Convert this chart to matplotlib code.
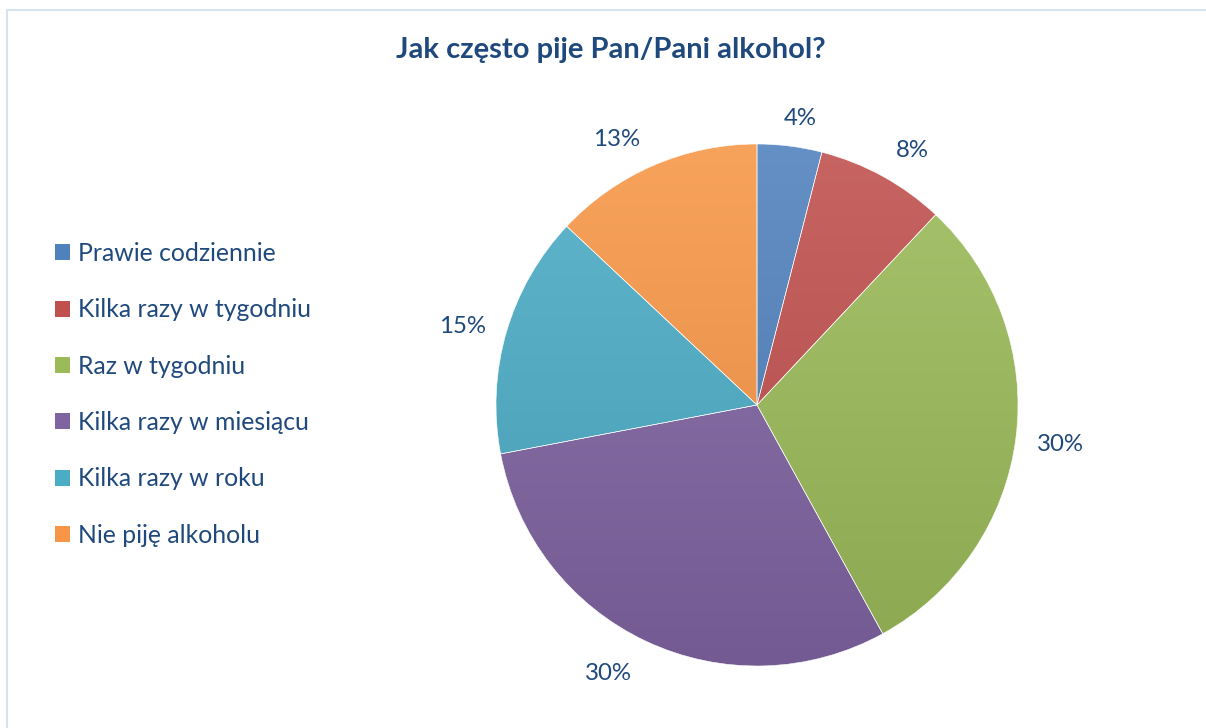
import numpy as np
import matplotlib.pyplot as plt
from matplotlib.colors import to_rgb, LinearSegmentedColormap
from matplotlib.patches import Rectangle

plt.rcParams['font.family'] = ['Lato', 'DejaVu Sans']

# Data
categories = ["Prawie codziennie", "Kilka razy w tygodniu", "Raz w tygodniu",
              "Kilka razy w miesiącu", "Kilka razy w roku", "Nie piję alkoholu"]
shares = [4, 8, 30, 30, 15, 13]
colors = ["#4F81BD", "#C0504D", "#9BBB59", "#8064A2", "#4BACC6", "#F79646"]

# small nudges (px) of the percentage labels, Excel-style placement
label_nudge = [(5, -14), (10, -11), (3, -2), (-20, 5), (-4, -6), (-20, -12)]

text_color = "#1F497D"

fig = plt.figure(figsize=(12.06, 7.28), dpi=100)

# light blue chart frame
fig.patches.append(Rectangle((7 / 1206, -0.05), 1.1, (728 - 10) / 728 + 0.05,
                             transform=fig.transFigure, fill=False,
                             edgecolor="#D5E3F3", linewidth=1.5))

# pie axes: centre (757, 405) px, radius 261 px
cx, cy, r = 757, 405, 261
ax = fig.add_axes([(cx - r) / 1206, (728 - cy - r) / 728, 2 * r / 1206, 2 * r / 728])

wedges, texts, autotexts = ax.pie(
    shares, colors=colors, startangle=90, counterclock=False,
    autopct='%.0f%%', pctdistance=1.16, radius=1,
    wedgeprops=dict(edgecolor="white", linewidth=0.4),
    textprops=dict(color=text_color, fontsize=17.3))

for t, (dx, dy) in zip(autotexts, label_nudge):
    x, y = t.get_position()
    t.set_position((x + dx / r, y + dy / r))

# vertical gradient per slice (lighter at top, darker at bottom)
grad = np.linspace(0, 1, 256).reshape(-1, 1)
for w, c in zip(wedges, colors):
    base = np.array(to_rgb(c))
    top = base + (1 - base) * 0.12
    bottom = base * 0.9
    cmap = LinearSegmentedColormap.from_list("g", [bottom, top])
    im = ax.imshow(grad, cmap=cmap, extent=(-1, 1, -1, 1), origin="lower",
                   aspect="auto", zorder=w.get_zorder() + 0.1)
    im.set_clip_path(w)

# white separators on top
for w in wedges:
    w.set_zorder(3)
    w.set_facecolor("none")

ax.set_xlim(-1, 1)
ax.set_ylim(-1, 1)
ax.axis("off")

# legend
leg_handles = [Rectangle((0, 0), 1, 1, facecolor=c) for c in colors]
fig.legend(leg_handles, categories, loc="upper left",
           bbox_to_anchor=(55 / 1206, 1 - 242 / 728),
           frameon=False, fontsize=17.8, labelcolor=text_color,
           handlelength=0.62, handleheight=0.62, handletextpad=0.3,
           labelspacing=1.35, borderpad=0, borderaxespad=0)

fig.text(611 / 1206, 1 - 50 / 728, "Jak często pije Pan/Pani alkohol?",
         ha="center", va="center", fontsize=21, fontweight="bold", color=text_color)

fig.savefig("out.png", dpi=100)
